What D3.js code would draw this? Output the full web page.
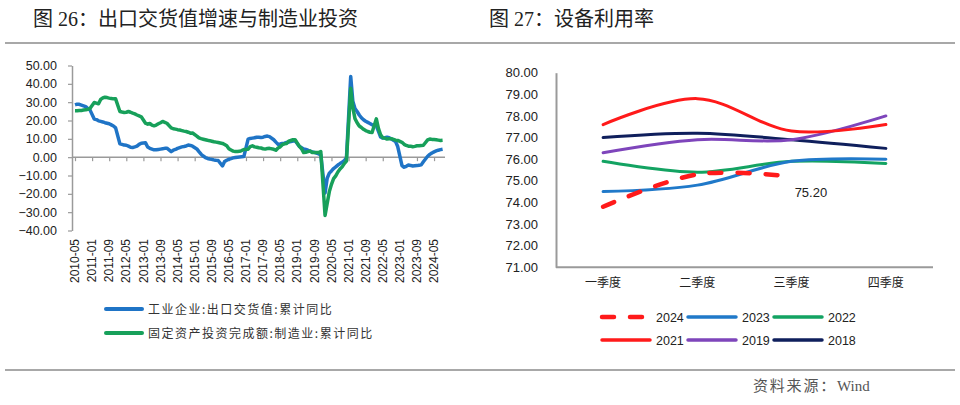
<!DOCTYPE html>
<html><head><meta charset="utf-8">
<script src="https://cdn.jsdelivr.net/npm/d3@7"></script>
<style>body{margin:0;background:#fff;} svg{display:block;}</style>
</head><body><svg id="c" width="960" height="405"></svg>
<script>
// ---------- DATA: left chart (monthly, 2010-05 .. 2024-09; January = no data) ----------
const exportYoY = [
  28.5, 28.9, 28.8, 28.4, 28.0, 27.6, 26.5, 25.8,                               // 2010 May-Dec
  null, 20.8, 20.5, 19.8, 19.5, 19.2, 18.8, 18.5, 18.2, 17.6, 17.0, 16.0,        // 2011
  null, 7.3, 7.0, 6.6, 6.5, 6.0, 5.4, 5.3, 5.6, 6.0, 7.0, 7.6,                   // 2012
  null, 7.8, 5.5, 4.8, 4.4, 4.0, 4.0, 4.2, 4.4, 4.6, 4.8, 4.9,                   // 2013
  null, 3.0, 3.8, 4.2, 4.8, 5.2, 5.6, 5.8, 6.1, 6.6, 6.4, 6.0,                   // 2014
  null, 4.5, 3.0, 1.6, 0.6, -0.2, -0.7, -1.0, -1.2, -1.5, -1.7, -1.8,            // 2015
  null, -4.8, -2.4, -1.7, -1.1, -0.8, -0.4, -0.2, 0.0, 0.1, 0.2, 0.3,            // 2016
  null, 9.8, 10.2, 10.4, 10.6, 10.9, 10.8, 10.7, 10.9, 11.3, 11.5, 11.2,         // 2017
  null, 9.5, 8.2, 7.0, 7.2, 7.5, 7.6, 8.0, 8.3, 8.5, 8.8, 9.0,                   // 2018
  null, 5.8, 5.2, 4.5, 4.2, 3.8, 3.2, 2.9, 2.6, 2.2, 1.8, 1.3,                   // 2019
  null, -19.6, -11.5, -8.7, -7.5, -6.2, -5.3, -4.3, -3.5, -2.8, -1.8, -0.6,      // 2020
  null, 44.0, 30.5, 26.5, 24.9, 23.0, 21.5, 20.4, 19.6, 19.0, 18.4, 17.7,        // 2021
  null, 17.1, 14.0, 11.0, 10.4, 10.6, 10.9, 10.6, 10.0, 9.2, 8.5, 5.8,           // 2022
  null, -4.6, -5.5, -5.0, -4.3, -4.5, -4.8, -4.7, -4.6, -4.4, -4.2, -2.5,        // 2023
  null, 0.5, 1.5, 2.3, 2.9, 3.4, 3.8, 4.1, 4.3                                   // 2024 Jan-Sep
];
const mfgInvYoY = [
  25.3, 25.3, 25.4, 25.5, 25.7, 25.8, 26.1, 26.5,
  null, 29.8, 29.5, 29.1, 31.5, 32.3, 32.7, 32.5, 32.2, 32.0, 31.8, 31.8,
  null, 24.9, 24.6, 24.4, 24.5, 24.9, 24.5, 24.0, 23.6, 23.0, 22.5, 22.0,
  null, 18.5, 18.0, 18.4, 17.5, 17.1, 17.5, 18.2, 18.8, 19.5, 19.0, 18.5,
  null, 16.0, 15.5, 15.3, 15.0, 14.8, 14.5, 14.2, 14.0, 13.6, 13.1, 13.2,
  null, 11.5, 10.5, 10.1, 9.8, 9.5, 9.2, 9.0, 8.7, 8.4, 8.2, 8.0,
  null, 7.5, 6.9, 6.2, 4.6, 3.9, 3.3, 3.1, 3.1, 3.2, 3.6, 4.2,
  null, 4.3, 5.8, 6.2, 5.6, 5.4, 5.1, 5.0, 4.6, 4.4, 4.7, 4.8,
  null, 4.3, 3.8, 5.0, 5.6, 6.8, 7.3, 7.5, 8.7, 9.1, 9.5, 9.5,
  null, 5.9, 4.6, 2.5, 2.7, 3.0, 3.3, 2.6, 2.5, 2.6, 2.5, 3.1,
  null, -31.8, -25.2, -18.8, -14.8, -11.7, -10.2, -8.1, -6.5, -5.3, -3.5, -2.2,
  null, 37.6, 27.0, 21.0, 18.8, 17.0, 16.2, 15.2, 14.5, 14.0, 13.6, 13.5,
  null, 20.9, 15.6, 12.2, 10.6, 10.4, 9.9, 10.0, 10.1, 9.7, 9.3, 9.1,
  null, 8.1, 7.0, 6.4, 6.0, 6.0, 5.7, 5.9, 6.2, 6.2, 6.3, 6.5,
  null, 9.4, 9.9, 9.7, 9.6, 9.5, 9.3, 9.1, 9.2
];
const leftYTicks = [50, 40, 30, 20, 10, 0, -10, -20, -30, -40];
const leftXTicks = ["2010-05","2011-01","2011-09","2012-05","2013-01","2013-09","2014-05",
  "2015-01","2015-09","2016-05","2017-01","2017-09","2018-05","2019-01","2019-09",
  "2020-05","2021-01","2021-09","2022-05","2023-01","2023-09","2024-05"];
const leftSeriesNames = ["工业企业:出口交货值:累计同比", "固定资产投资完成额:制造业:累计同比"];

// ---------- DATA: right chart ----------
const quarters = ["一季度", "二季度", "三季度", "四季度"];
const years = ["2024", "2023", "2022", "2021", "2019", "2018"];
const util2024 = [73.8, 75.3, 75.2];
const util2023 = [74.5, 74.8, 75.9, 76.0];
const util2022 = [75.9, 75.4, 75.9, 75.8];
const util2021 = [77.6, 78.8, 77.3, 77.6];
const util2019 = [76.3, 76.9, 76.9, 78.0];
const util2018 = [77.0, 77.2, 76.9, 76.5];
const rightYTicks = [80, 79, 78, 77, 76, 75, 74, 73, 72, 71];

// ---------- categories ----------
const months = [];
for (let y = 2010, m = 5; y < 2024 || (y === 2024 && m <= 9); ) {
  months.push(y + "-" + String(m).padStart(2, "0"));
  m++; if (m > 12) { m = 1; y++; }
}

const svg = d3.select("#c");
const AX = "#9a9a9a";
const numFont = "'Liberation Sans', Arial, sans-serif";
const cjk = "'Noto Sans CJK SC', sans-serif";
const serifMix = "'Liberation Serif', 'Noto Sans CJK SC', serif";

// titles & rules
svg.append("text").attr("x", 33).attr("y", 26)
  .attr("font-family", serifMix).attr("font-size", 20).attr("fill", "#222")
  .text("图 26：出口交货值增速与制造业投资");
svg.append("text").attr("x", 489).attr("y", 26)
  .attr("font-family", serifMix).attr("font-size", 20).attr("fill", "#222")
  .text("图 27：设备利用率");
[43, 370].forEach(yy => svg.append("line").attr("x1", 5).attr("x2", 955).attr("y1", yy).attr("y2", yy)
  .attr("stroke", "#a8a8a8").attr("stroke-width", 2));
const foot = svg.append("text").attr("x", 753).attr("y", 391)
  .attr("font-family", serifMix).attr("font-size", 15).attr("fill", "#555");
foot.append("tspan").attr("letter-spacing", 1.8).text("资料来源：");
foot.append("tspan").text("Wind");

// ---------- LEFT CHART ----------
const xL = d3.scalePoint().domain(months).range([75, 442.6]);
const yL = d3.scaleLinear().domain([-40, 50]).range([230.5, 65.5]);

const gyL = svg.append("g").attr("transform", "translate(72,0)")
  .call(d3.axisLeft(yL).tickValues(leftYTicks).tickSize(4).tickSizeOuter(0).tickPadding(11)
    .tickFormat(d3.format(".2f")));
gyL.select(".domain").attr("stroke", AX).attr("stroke-width", 1.5);
gyL.selectAll(".tick line").attr("stroke", AX).attr("stroke-width", 1.2);
gyL.selectAll(".tick text").attr("font-family", numFont).attr("font-size", 12.5).attr("fill", "#222");

const gxL = svg.append("g").attr("transform", `translate(0,${yL(0)})`)
  .call(d3.axisBottom(xL).tickValues(leftXTicks).tickSize(4).tickSizeOuter(0).tickFormat(""));
gxL.select(".domain").remove();
gxL.selectAll(".tick line").attr("stroke", AX).attr("stroke-width", 1.2);
svg.append("line").attr("x1", 72).attr("x2", 445).attr("y1", yL(0)).attr("y2", yL(0))
  .attr("stroke", AX).attr("stroke-width", 1.5);
svg.append("g").selectAll("text").data(leftXTicks).join("text")
  .attr("transform", d => `translate(${xL(d)},239) rotate(-90)`)
  .attr("dy", "0.35em").attr("text-anchor", "end")
  .attr("font-family", numFont).attr("font-size", 12).attr("fill", "#222")
  .text(d => d);

const lineL = d3.line().x(d => xL(d.m)).y(d => yL(d.v));
const ptsOf = arr => months.map((m, i) => ({ m, v: arr[i] })).filter(d => d.v !== null && d.v !== undefined);
const leftColors = ["#1f74c6", "#17a05a"];
[exportYoY, mfgInvYoY].forEach((arr, k) => {
  svg.append("path").datum(ptsOf(arr)).attr("d", lineL).attr("fill", "none")
    .attr("stroke", leftColors[k]).attr("stroke-width", 3.5).attr("stroke-linejoin", "round");
});

// left legend
leftSeriesNames.forEach((name, k) => {
  const yy = 309 + k * 24;
  svg.append("line").attr("x1", 106).attr("x2", 142).attr("y1", yy).attr("y2", yy)
    .attr("stroke", leftColors[k]).attr("stroke-width", 4).attr("stroke-linecap", "round");
  svg.append("text").attr("x", 148).attr("y", yy + 4.5)
    .attr("font-family", cjk).attr("font-size", 12).attr("letter-spacing", 1.5).attr("fill", "#333")
    .text(name);
});

// ---------- RIGHT CHART ----------
const xR = d3.scalePoint().domain(quarters).range([556, 933]).padding(0.5);
const yR = d3.scaleLinear().domain([71, 80]).range([267.3, 72.7]);

const gyR = svg.append("g").attr("transform", "translate(556,0)")
  .call(d3.axisLeft(yR).tickValues(rightYTicks).tickSize(0).tickPadding(18).tickFormat(d3.format(".2f")));
gyR.select(".domain").attr("stroke", AX).attr("stroke-width", 2);
gyR.selectAll(".tick text").attr("font-family", numFont).attr("font-size", 13).attr("fill", "#222");
svg.append("line").attr("x1", 556).attr("x2", 933).attr("y1", yR(71)).attr("y2", yR(71))
  .attr("stroke", AX).attr("stroke-width", 2);
svg.append("g").selectAll("text").data(quarters).join("text")
  .attr("x", d => xR(d)).attr("y", 287).attr("text-anchor", "middle")
  .attr("font-family", cjk).attr("font-size", 12).attr("fill", "#222").text(d => d);

const rightSeries = [util2024, util2023, util2022, util2021, util2019, util2018];
const rightColors = ["#ff1a1a", "#2079c9", "#13a362", "#ff1a1a", "#7e45bb", "#0f1f5c"];
const lineR = d3.line().x((d, i) => xR(quarters[i])).y(d => yR(d)).curve(d3.curveCatmullRom.alpha(0.5));
// draw order: older first, 2024 on top
[5, 4, 3, 2, 1, 0].forEach(k => {
  const p = svg.append("path").datum(rightSeries[k]).attr("d", lineR).attr("fill", "none")
    .attr("stroke", rightColors[k]).attr("stroke-width", k === 0 ? 4.5 : 3)
    .attr("stroke-linecap", "round");
  if (k === 0) p.attr("stroke-dasharray", "12,16");
});
svg.append("text").attr("x", xR(quarters[2]) + 3).attr("y", yR(util2024[2]) + 21)
  .attr("font-family", numFont).attr("font-size", 13).attr("fill", "#222")
  .text(d3.format(".2f")(util2024[2]));

// right legend
years.forEach((yr, k) => {
  const col = k % 3, row = Math.floor(k / 3);
  const x0 = 602 + col * 86, yy = 317 + row * 23;
  const ln = svg.append("line").attr("x1", x0).attr("x2", k === 0 ? x0 + 43 : x0 + 48)
    .attr("y1", yy).attr("y2", yy).attr("stroke", rightColors[k])
    .attr("stroke-width", k === 0 ? 4.5 : 3.5).attr("stroke-linecap", "round");
  if (k === 0) ln.attr("stroke-dasharray", "12,16");
  svg.append("text").attr("x", x0 + 54).attr("y", yy + 4.5)
    .attr("font-family", numFont).attr("font-size", 12.5).attr("fill", "#222").text(yr);
});
</script></body></html>
